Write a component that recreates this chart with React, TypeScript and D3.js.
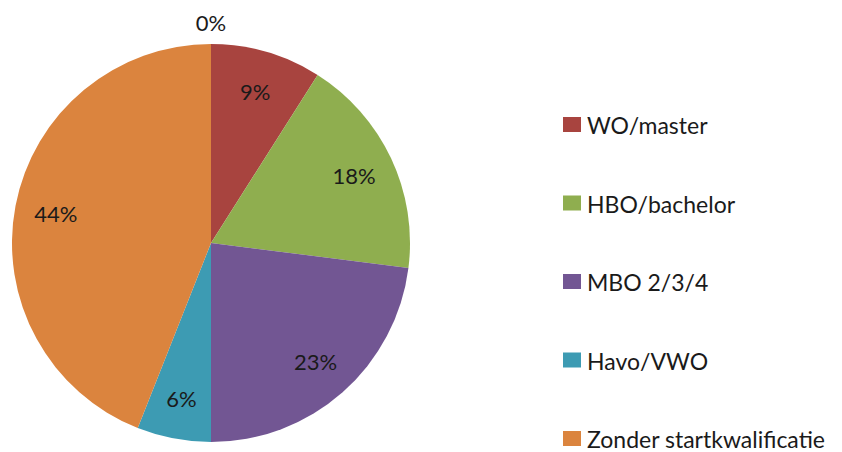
import React from "react";
import * as d3 from "d3";

const categories = ["", "WO/master", "HBO/bachelor", "MBO 2/3/4", "Havo/VWO", "Zonder startkwalificatie"];
const values = [0, 9, 18, 23, 6, 44];
const labels = ["0%", "9%", "18%", "23%", "6%", "44%"];
const legendItems = ["WO/master", "HBO/bachelor", "MBO 2/3/4", "Havo/VWO", "Zonder startkwalificatie"];
const colors = ["#4F81BD", "#A8443F", "#8FAE4F", "#725693", "#3D9BB3", "#DB843E"];

const W = 842, H = 452;
const cx = 211, cy = 243, R = 199;

export default function App() {
  const pie = d3.pie<number>().sort(null).value((d) => d);
  const arcs = pie(values);
  const arcGen = d3.arc<d3.PieArcDatum<number>>().innerRadius(0).outerRadius(R);
  const labelArc = d3.arc<d3.PieArcDatum<number>>().innerRadius(158).outerRadius(158);
  const zeroArc = d3.arc<d3.PieArcDatum<number>>().innerRadius(R + 22).outerRadius(R + 22);
  const legendY = d3.scalePoint<string>().domain(legendItems).range([125, 439]);

  return (
    <svg width={W} height={H} style={{ position: "absolute", left: 0, top: 0, background: "#fff" }}
      fontFamily="Lato, 'Open Sans', sans-serif">
      <g transform={`translate(${cx},${cy})`}>
        {arcs.map((a, i) => (
          <path key={i} d={arcGen(a) || ""} fill={colors[i]} />
        ))}
        {arcs.map((a, i) => {
          const [x, y] = a.value === 0 ? zeroArc.centroid(a) : labelArc.centroid(a);
          return (
            <text key={"l" + i} x={x} y={y} textAnchor="middle" dominantBaseline="central"
              fontSize={22} fill="#1a1a1a">{labels[i]}</text>
          );
        })}
      </g>
      {legendItems.map((name) => {
        const i = categories.indexOf(name);
        const y = legendY(name)!;
        return (
          <g key={name}>
            <rect x={563} y={y - 8} width={18} height={15} fill={colors[i]} />
            <text x={587} y={y} dominantBaseline="central" fontSize={23} fill="#1a1a1a">{name}</text>
          </g>
        );
      })}
    </svg>
  );
}
